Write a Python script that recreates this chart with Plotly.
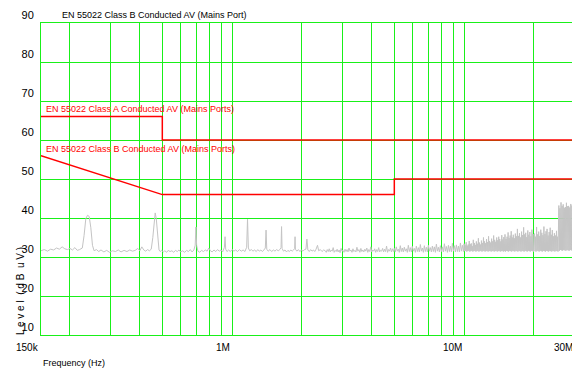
import numpy as np
import plotly.graph_objects as go

# ---------------- data ----------------
limit_a_freq = [150e3, 500e3, 500e3, 30e6]
limit_a_level = [66, 66, 60, 60]
limit_b_freq = [150e3, 500e3, 5e6, 5e6, 30e6]
limit_b_level = [56, 46, 46, 50, 50]

# measured spectrum, 150 kHz .. 2.5 MHz (kHz, dBuV)
scan_lo_freq_khz = [
    150, 155, 160, 165, 170, 175, 180, 185, 190, 195, 200, 205, 210, 215, 220, 226,
    230, 234, 238, 242, 246, 250, 254, 260, 266, 272, 280, 288, 296, 305, 314, 323,
    332, 342, 352, 362, 372, 382, 392, 400, 408, 416, 424, 432, 440, 448, 455, 461,
    466, 471, 477, 484, 490, 497, 505, 513, 522, 530, 540, 550, 560, 570, 580, 590,
    600, 612, 624, 636, 648, 660, 672, 684, 693, 698, 703, 712, 725, 738, 752, 766,
    780, 793, 806, 820, 835, 850, 865, 880, 895, 910, 926, 932, 938, 950, 966, 982,
    1000, 1018, 1036, 1055, 1075, 1095, 1115, 1135, 1155, 1165, 1175, 1190, 1210, 1230,
    1250, 1270, 1290, 1310, 1330, 1350, 1370, 1390, 1400, 1410, 1430, 1455, 1480, 1505,
    1530, 1555, 1580, 1605, 1625, 1633, 1641, 1665, 1690, 1715, 1740, 1765, 1790, 1815,
    1840, 1860, 1867, 1874, 1900, 1930, 1960, 1990, 2020, 2050, 2080, 2100, 2120, 2150,
    2180, 2210, 2240, 2270, 2300, 2333, 2360, 2400, 2440, 2480,
]
scan_lo_level = [
    31.6, 31.9, 31.5, 32.0, 31.8, 32.3, 32.0, 32.6, 32.1, 31.9, 32.2, 31.8, 32.4, 31.7, 31.9, 32.3,
    35.5, 39.8, 40.7, 40.4, 37.5, 33.0, 31.6, 31.9, 31.4, 31.8, 31.3, 31.7, 31.2, 31.6, 31.4, 31.8,
    31.3, 31.7, 31.4, 31.8, 31.5, 31.7, 32.2, 31.6, 32.6, 31.8, 31.5, 31.9, 31.6, 32.0, 35.0, 39.5,
    41.3, 39.8, 35.0, 31.8, 31.4, 31.7, 31.3, 31.6, 31.2, 31.7, 31.4, 31.6, 31.2, 31.7, 31.4, 31.8,
    31.3, 31.6, 31.2, 31.7, 31.4, 31.9, 31.3, 31.8, 33.0, 37.7, 33.0, 31.5, 31.2, 31.7, 31.4, 31.8,
    31.5, 32.3, 31.6, 31.3, 31.8, 31.4, 31.9, 31.5, 31.8, 31.3, 32.5, 35.2, 32.0, 31.4, 31.8, 31.4,
    31.9, 31.5, 31.8, 31.4, 31.9, 31.5, 31.8, 31.4, 32.5, 39.7, 32.3, 31.6, 31.9, 31.5,
    31.8, 31.4, 31.9, 31.5, 31.8, 31.4, 31.8, 32.3, 36.9, 32.0, 31.5, 31.9, 31.4, 31.8,
    31.5, 31.9, 31.6, 31.9, 32.4, 37.8, 32.2, 31.5, 31.8, 31.3, 31.7, 31.4, 31.8, 31.5,
    31.8, 32.2, 35.2, 32.0, 31.5, 31.9, 31.4, 31.8, 31.5, 31.9, 32.0, 34.6, 31.8, 31.4,
    31.9, 31.5, 31.8, 31.4, 32.0, 33.0, 31.6, 31.9, 31.4, 31.8,
]

# measured spectrum above 2.5 MHz: sweep segments (start Hz, stop Hz) and levels (dBuV)
sweep_b1 = (2.52e6, 4.96e6)
level_b1 = [
    31.6, 31.2, 31.9, 31.4, 32.1, 31.3, 31.8, 31.5, 32.4, 31.2,
    31.7, 31.4, 32.0, 31.3, 31.8, 31.1, 32.2, 31.5, 31.7, 31.2,
    32.0, 31.4, 31.9, 31.3, 32.3, 31.5, 31.8, 31.2, 32.1, 31.4,
    31.7, 31.3, 32.5, 31.5, 31.9, 31.2, 32.2, 31.4, 31.8, 31.3,
    32.0, 31.5, 32.3, 31.2, 31.9, 31.4, 32.6, 31.3, 31.8, 31.5,
    32.1, 31.2, 31.9, 31.4, 32.4, 31.3, 31.7, 31.5, 32.2, 31.3,
    32.0, 31.4, 32.8, 31.2, 31.9, 31.5, 32.3, 31.3, 32.1, 31.4,
]
sweep_b2 = (5.0e6, 9.93e6)
level_b2 = [
    32.2, 31.3, 32.6, 31.5, 32.0, 31.2, 32.9, 31.4, 32.3, 31.3,
    32.5, 31.5, 32.1, 31.2, 33.0, 31.4, 32.4, 31.3, 32.7, 31.5,
    32.2, 31.2, 32.8, 31.4, 32.4, 31.3, 33.2, 31.5, 32.3, 31.2,
    32.9, 31.4, 32.5, 31.3, 33.0, 31.5, 32.4, 31.3, 32.8, 31.4,
    32.6, 31.2, 33.3, 31.5, 32.5, 31.3, 32.9, 31.4, 32.6, 31.3,
    33.4, 31.5, 32.7, 31.2, 33.0, 31.4, 32.8, 31.3, 33.5, 31.5,
    32.9, 31.3, 33.1, 31.4, 32.8, 31.3, 33.6, 31.5, 33.0, 31.4,
]
sweep_b3 = (10.0e6, 14.9e6)
level_b3 = [
    33.4, 31.5, 33.0, 31.6, 33.8, 31.4, 32.9, 31.5, 33.2, 31.6,
    34.1, 31.4, 33.3, 31.5, 33.5, 31.6, 32.8, 31.4, 34.4, 31.5,
    33.6, 31.6, 33.1, 31.4, 34.0, 31.5, 33.4, 31.6, 34.8, 31.4,
    33.7, 31.5, 33.2, 31.6, 34.2, 31.4, 33.6, 31.5, 35.0, 31.6,
    34.0, 31.4, 33.5, 31.5, 34.6, 31.6, 33.8, 31.4, 35.3, 31.5,
    34.1, 31.6, 33.7, 31.4, 34.7, 31.5, 34.0, 31.6, 35.5, 31.4,
    34.4, 31.5, 33.9, 31.6, 35.0, 31.4, 34.3, 31.5, 35.2, 31.6,
    34.6, 31.4, 34.0, 31.5, 35.6, 31.6, 34.5, 31.4, 35.1, 31.5,
]
sweep_b4 = (15.0e6, 19.9e6)
level_b4 = [
    35.8, 31.4, 34.6, 31.6, 35.2, 31.5, 36.3, 31.4, 34.9, 31.6,
    35.5, 31.5, 36.6, 31.4, 35.0, 31.6, 35.7, 31.5, 34.8, 31.4,
    36.0, 31.6, 35.3, 31.5, 37.2, 31.4, 35.4, 31.6, 36.1, 31.5,
    35.0, 31.4, 36.5, 31.6, 35.6, 31.5, 37.6, 31.4, 35.8, 31.6,
    36.2, 31.5, 35.1, 31.4, 36.8, 31.6, 35.7, 31.5, 36.4, 31.4,
    35.3, 31.6, 37.0, 31.5, 35.9, 31.4,
]
sweep_b5 = (20.1e6, 25.4e6)
level_b5 = [
    36.0, 31.5, 35.2, 31.4, 37.7, 31.6, 35.8, 31.5, 36.5, 31.4,
    35.4, 31.6, 37.0, 31.5, 36.2, 31.4, 35.6, 31.6, 37.8, 31.5,
    35.9, 31.4, 36.6, 31.6, 37.2, 31.5, 35.5, 31.4, 36.4, 31.6,
    37.5, 31.5, 35.7, 31.4, 36.9, 31.6, 35.3, 31.5, 36.1, 31.4,
    35.5, 31.6, 36.7, 31.5, 35.2, 31.4,
]
sweep_b6 = (25.6e6, 29.6e6)
level_b6 = [
    43.2, 31.6, 42.5, 31.8, 44.0, 31.7, 43.1, 31.6, 43.5, 31.8,
    42.6, 31.7, 42.8, 31.6, 43.9, 31.8, 43.0, 31.7, 43.1, 31.6,
    42.7, 31.8, 43.6, 31.7, 43.2, 31.6, 43.4, 31.7,
]

y_ticks = [10, 20, 30, 40, 50, 60, 70, 80, 90]
x_grid = [150e3, 200e3, 300e3, 400e3, 500e3, 600e3, 700e3, 800e3, 900e3,
          1e6, 2e6, 3e6, 4e6, 5e6, 6e6, 7e6, 8e6, 9e6, 10e6, 20e6]
x_tick_vals = [150e3, 1e6, 10e6]
x_tick_text = ["150k", "1M", "10M"]
x_last_tick = (30e6, "30M")

title_text = "EN 55022 Class B Conducted AV (Mains Port)"
label_a = "EN 55022 Class A Conducted AV (Mains Ports)"
label_b = "EN 55022 Class B Conducted AV (Mains Ports)"

# ---------------- build ----------------
freq = [f * 1e3 for f in scan_lo_freq_khz]
level = list(scan_lo_level)
for (f0, f1), lv in [(sweep_b1, level_b1), (sweep_b2, level_b2), (sweep_b3, level_b3),
                     (sweep_b4, level_b4), (sweep_b5, level_b5), (sweep_b6, level_b6)]:
    freq += list(np.geomspace(f0, f1, len(lv)))
    level += lv

FONT = "Liberation Sans, Arial, sans-serif"
GREEN = "#19f019"
RED = "#ff0000"

x_min = np.log10(150e3)
x_max = 7.4649

fig = go.Figure()
fig.add_trace(go.Scatter(x=freq, y=level, mode="lines",
                         line=dict(color="#c4c4c4", width=1), hoverinfo="skip"))
fig.add_trace(go.Scatter(x=limit_a_freq, y=limit_a_level, mode="lines",
                         line=dict(color=RED, width=1.5)))
fig.add_trace(go.Scatter(x=limit_b_freq, y=limit_b_level, mode="lines",
                         line=dict(color=RED, width=1.5)))

fig.update_layout(
    width=572, height=369,
    margin=dict(l=41, r=0, t=23, b=34, autoexpand=False),
    paper_bgcolor="white", plot_bgcolor="white",
    showlegend=False,
    font=dict(family=FONT, size=10, color="black"),
)
fig.update_xaxes(type="log", range=[x_min, x_max], tickvals=x_grid,
                 showticklabels=False, ticks="", automargin=False,
                 showgrid=True, gridcolor=GREEN, gridwidth=1, zeroline=False,
                 showline=True, linecolor=GREEN, linewidth=1, mirror=True)
fig.update_yaxes(range=[10, 90], tickvals=y_ticks, ticks="", automargin=False,
                 showgrid=True, gridcolor=GREEN, gridwidth=1, zeroline=False,
                 showline=True, linecolor=GREEN, linewidth=1, mirror=False,
                 tickfont=dict(family=FONT, size=11, color="black"),
                 ticklabelshift=-8, ticklabelstandoff=4)

ann = []
for v, t in zip(x_tick_vals, x_tick_text):
    ann.append(dict(x=np.log10(v), xref="x", y=0, yref="paper", text=t,
                    xanchor="right", yanchor="middle", yshift=-12, showarrow=False,
                    font=dict(family=FONT, size=10, color="black")))
ann.append(dict(x=(np.log10(x_last_tick[0]) - x_min) / (x_max - x_min), xref="paper",
                y=0, yref="paper", text=x_last_tick[1], xanchor="right",
                yanchor="middle", yshift=-12, showarrow=False,
                font=dict(family=FONT, size=10, color="black")))
ann.append(dict(x=0.036, xref="paper", y=1, yref="paper", text=title_text,
                xanchor="left", yanchor="middle", yshift=8, showarrow=False,
                font=dict(family=FONT, size=9, color="black")))
ann.append(dict(x=np.log10(150e3), xref="x", y=67.9, yref="y", text=label_a,
                xanchor="left", yanchor="middle", xshift=3, showarrow=False,
                font=dict(family=FONT, size=9, color=RED)))
ann.append(dict(x=np.log10(150e3), xref="x", y=57.6, yref="y", text=label_b,
                xanchor="left", yanchor="middle", xshift=3, showarrow=False,
                font=dict(family=FONT, size=9, color=RED)))
ann.append(dict(x=0, xref="paper", y=0, yref="paper", text="Frequency (Hz)",
                xanchor="left", yanchor="middle", yshift=-28, showarrow=False,
                font=dict(family=FONT, size=9, color="black")))
ann.append(dict(x=0, xref="paper", y=0, yref="paper", text="L e v e l  ( d B  u V )",
                xanchor="center", yanchor="bottom", xshift=-21, yshift=-2,
                textangle=-90, showarrow=False,
                font=dict(family=FONT, size=10, color="black")))
fig.update_layout(annotations=ann)

fig.write_html("out.html", config={"displayModeBar": False},
               post_script="document.body.style.margin='0px';")
